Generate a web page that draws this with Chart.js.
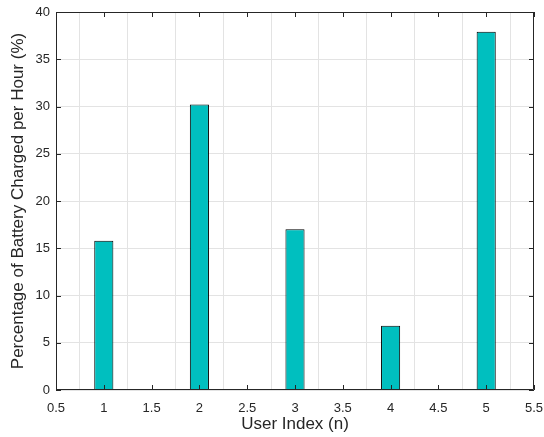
<!DOCTYPE html>
<html>
<head>
<meta charset="utf-8">
<script src="https://cdn.jsdelivr.net/npm/chart.js@4.4.0/dist/chart.umd.min.js"></script>
<style>
  html, body { margin: 0; padding: 0; background: #fff; }
  #wrap { width: 544px; height: 437px; }
</style>
</head>
<body>
<div id="wrap"><canvas id="grafico" width="544" height="437"></canvas></div>
<script>
// user index and charge rate (% per hour)
var users = [1, 2, 3, 4, 5];
var chargeRate = [15.8, 30.2, 17.0, 6.8, 37.9];
var xTicks = [0.5, 1, 1.5, 2, 2.5, 3, 3.5, 4, 4.5, 5, 5.5];
var yTicks = [0, 5, 10, 15, 20, 25, 30, 35, 40];

var axisColor = '#262626';

// matlab style box with inward ticks
var boxPlugin = {
	id: 'box',
	afterDatasetsDraw: function(chart){
		var c = chart.ctx, a = chart.chartArea;
		var xs = chart.scales.x, ys = chart.scales.y;
		var len = 5;
		c.save();
		c.strokeStyle = axisColor;
		c.lineWidth = 1;
		c.beginPath();
		c.rect(a.left + 0.5, a.top + 0.5, a.right - a.left - 1, a.bottom - a.top - 1);
		xTicks.forEach(function(v){
			var px = Math.round(xs.getPixelForValue(v)) + 0.5;
			c.moveTo(px, a.bottom); c.lineTo(px, a.bottom - len);
			c.moveTo(px, a.top); c.lineTo(px, a.top + len);
		});
		yTicks.forEach(function(v){
			var py = Math.round(ys.getPixelForValue(v)) + 0.5;
			c.moveTo(a.left, py); c.lineTo(a.left + len, py);
			c.moveTo(a.right, py); c.lineTo(a.right - len, py);
		});
		c.stroke();
		c.restore();
	}
};

function exibirGrafico(){

	var points = users.map(function(u, i){ return {x: u, y: chargeRate[i]}; });

	var data = {
		datasets: [{
			data: points,
			backgroundColor: '#00BFBF',
			borderColor: '#000000',
			borderWidth: 1,
			categoryPercentage: 1,
			barPercentage: 0.4
		}]
	};

	var tickFont = { family: 'Liberation Sans', size: 13 };
	var titleFont = { family: 'Liberation Sans', size: 17 };

	var options = {
		responsive: false,
		animation: false,
		layout: { padding: { top: 12, right: 10, left: 0, bottom: 0 } },
		plugins: {
			legend: { display: false },
			tooltip: { enabled: false }
		},
		scales: {
			x: {
				type: 'linear',
				min: 0.5,
				max: 5.5,
				offset: false,
				afterBuildTicks: function(s){ s.ticks = xTicks.map(function(v){ return {value: v}; }); },
				afterFit: function(s){ s.height = 47; s.paddingLeft = 0; s.paddingRight = 0; },
				ticks: { color: axisColor, font: tickFont, padding: 11, maxRotation: 0,
					callback: function(v){ return String(v); } },
				grid: { color: '#e3e3e3', drawTicks: false },
				border: { display: false },
				title: { display: true, text: 'User Index (n)', color: axisColor, font: titleFont, padding: { top: 0, bottom: 2 } }
			},
			y: {
				min: 0,
				max: 40,
				afterBuildTicks: function(s){ s.ticks = yTicks.map(function(v){ return {value: v}; }); },
				afterFit: function(s){ s.width = 56; s.paddingTop = 0; s.paddingBottom = 0; },
				ticks: { color: axisColor, font: tickFont, padding: 6,
					callback: function(v){ return String(v); } },
				grid: { color: '#e3e3e3', drawTicks: false },
				border: { display: false },
				title: { display: true, text: 'Percentage of Battery Charged per Hour (%)', color: axisColor, font: titleFont, padding: { top: 8, bottom: 0 } }
			}
		}
	};

	var ctx = document.getElementById('grafico').getContext('2d');
	new Chart(ctx, { type: 'bar', data: data, options: options, plugins: [boxPlugin] });
}

exibirGrafico();
</script>
</body>
</html>
